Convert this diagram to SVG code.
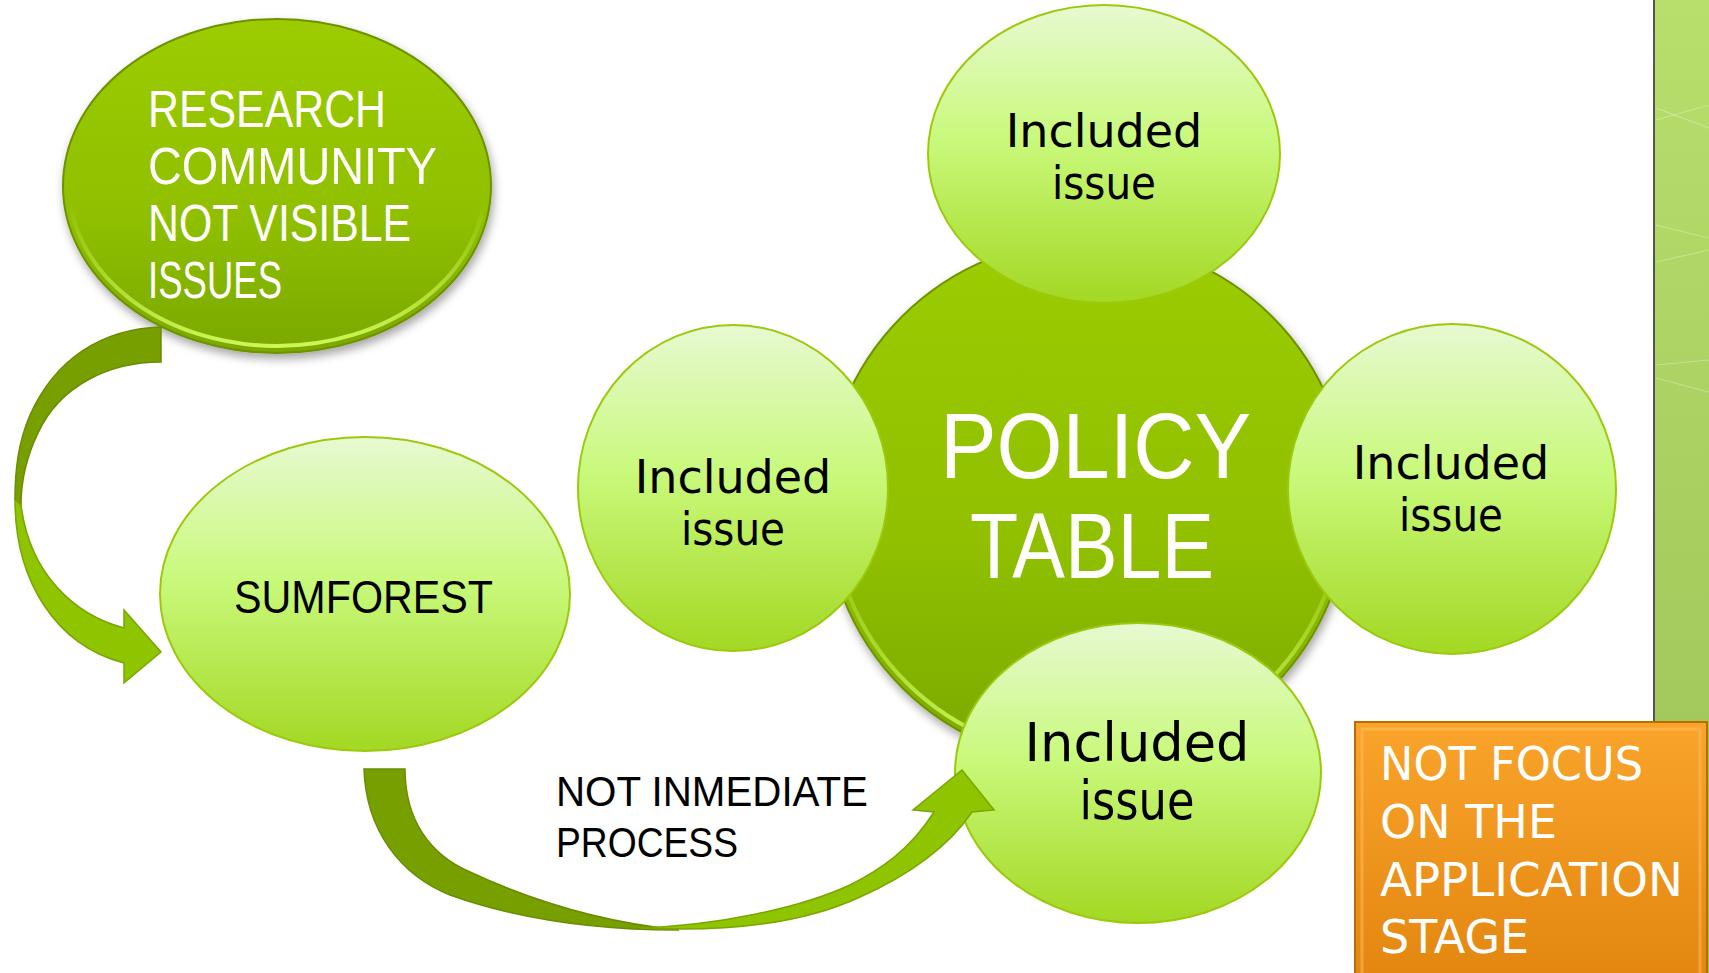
<svg xmlns="http://www.w3.org/2000/svg" width="1709" height="973" viewBox="0 0 1709 973">
<defs>
<linearGradient id="gDark" x1="0" y1="0" x2="0" y2="1">
<stop offset="0" stop-color="#9ccc00"/><stop offset="0.6" stop-color="#8fbf00"/><stop offset="1" stop-color="#7aa800"/>
</linearGradient>
<linearGradient id="gRim" x1="0" y1="0" x2="0" y2="1">
<stop offset="0.55" stop-color="#d8ff60" stop-opacity="0"/><stop offset="1" stop-color="#d8ff60" stop-opacity="0.9"/>
</linearGradient>
<linearGradient id="gLight" x1="0" y1="0" x2="0" y2="1">
<stop offset="0" stop-color="#e8f9d2"/><stop offset="0.45" stop-color="#c9f97c"/><stop offset="1" stop-color="#a3d823"/>
</linearGradient>
<linearGradient id="gOrange" x1="0" y1="0" x2="0" y2="1">
<stop offset="0" stop-color="#faa42c"/><stop offset="1" stop-color="#e2860f"/>
</linearGradient>
<linearGradient id="gPanel" x1="0" y1="0" x2="0" y2="1">
<stop offset="0" stop-color="#b8de6c"/><stop offset="1" stop-color="#9cc156"/>
</linearGradient>
<filter id="shadow" x="-10%" y="-10%" width="130%" height="130%">
<feDropShadow dx="2" dy="5" stdDeviation="5" flood-color="#000" flood-opacity="0.35"/>
</filter>
<style>
.dark{fill:url(#gDark);stroke:#6e9200;stroke-width:2}
.rim{fill:none;stroke:url(#gRim);stroke-width:4}
.light{fill:url(#gLight);stroke:#9cc90c;stroke-width:2}
.tw{font-family:"Liberation Sans",Arial,sans-serif}
.cg{font-family:"DejaVu Sans","Liberation Sans",sans-serif}
.wt{fill:#ffffff}
.bk{fill:#000000}
.arrDark{fill:#789f00;stroke:#6a8c00;stroke-width:1.5}
.arrLight{fill:#8fc400;stroke:#7aa600;stroke-width:1.5}
</style>
</defs>
<rect width="1709" height="973" fill="#ffffff"/>

<g id="panel">
<rect x="1654" y="0" width="55" height="973" fill="url(#gPanel)"/>
<line x1="1654" y1="0" x2="1654" y2="973" stroke="#555555" stroke-width="2"/>
<g stroke="#ffffff" stroke-opacity="0.3" stroke-width="1.2">
<line x1="1656" y1="108" x2="1709" y2="128"/>
<line x1="1656" y1="120" x2="1709" y2="105"/>
<line x1="1656" y1="225" x2="1709" y2="238"/>
<line x1="1656" y1="262" x2="1709" y2="250"/>
<line x1="1656" y1="365" x2="1709" y2="360"/>
<line x1="1656" y1="378" x2="1709" y2="392"/>
</g>
</g>

<g id="research">
<ellipse cx="277" cy="186" rx="214" ry="167" class="dark" filter="url(#shadow)"/>
<ellipse cx="277" cy="185" rx="208" ry="161" class="rim"/>
<g class="tw wt" font-size="51">
<text x="148" y="127" textLength="238" lengthAdjust="spacingAndGlyphs">RESEARCH</text>
<text x="148" y="184" textLength="289" lengthAdjust="spacingAndGlyphs">COMMUNITY</text>
<text x="148" y="241" textLength="263" lengthAdjust="spacingAndGlyphs">NOT VISIBLE</text>
<text x="148" y="298" textLength="134" lengthAdjust="spacingAndGlyphs">ISSUES</text>
</g>
</g>

<g id="sumforest">
<ellipse cx="365" cy="594" rx="205" ry="157" class="light"/>
<text x="234" y="613" class="tw bk" font-size="46" textLength="259" lengthAdjust="spacingAndGlyphs">SUMFOREST</text>
</g>

<g id="policy">
<circle cx="1087" cy="502" r="262" class="dark" filter="url(#shadow)"/>
<circle cx="1087" cy="501" r="256" class="rim"/>
<g class="tw wt" font-size="92">
<text x="940" y="478" textLength="311" lengthAdjust="spacingAndGlyphs">POLICY</text>
<text x="970" y="578" textLength="244" lengthAdjust="spacingAndGlyphs">TABLE</text>
</g>
</g>

<g id="issue-top">
<ellipse cx="1104" cy="154" rx="176" ry="149" class="light"/>
<g class="cg bk" font-size="46" text-anchor="middle">
<text x="1104" y="147">Included</text>
<text x="1104" y="199" textLength="104" lengthAdjust="spacingAndGlyphs">issue</text>
</g>
</g>

<g id="issue-left">
<ellipse cx="733" cy="488" rx="155" ry="163" class="light"/>
<g class="cg bk" font-size="46" text-anchor="middle">
<text x="733" y="493">Included</text>
<text x="733" y="545" textLength="104" lengthAdjust="spacingAndGlyphs">issue</text>
</g>
</g>

<g id="issue-right">
<ellipse cx="1452" cy="489" rx="164" ry="165" class="light"/>
<g class="cg bk" font-size="46" text-anchor="middle">
<text x="1451" y="479">Included</text>
<text x="1451" y="531" textLength="104" lengthAdjust="spacingAndGlyphs">issue</text>
</g>
</g>

<g id="issue-bottom">
<ellipse cx="1138" cy="773" rx="183" ry="150" class="light"/>
<g class="cg bk" font-size="53" text-anchor="middle">
<text x="1137" y="761" textLength="225" lengthAdjust="spacingAndGlyphs">Included</text>
<text x="1137" y="819" textLength="115" lengthAdjust="spacingAndGlyphs">issue</text>
</g>
</g>

<g id="not-focus">
<rect x="1355" y="722" width="352" height="260" fill="url(#gOrange)" stroke="#b96c00" stroke-width="2"/>
<rect x="1362" y="729" width="338" height="250" fill="none" stroke="#ffc060" stroke-opacity="0.5" stroke-width="3"/>
<g class="cg wt" font-size="46">
<text x="1380" y="780" textLength="263" lengthAdjust="spacingAndGlyphs">NOT FOCUS</text>
<text x="1380" y="838">ON THE</text>
<text x="1380" y="896" textLength="303" lengthAdjust="spacingAndGlyphs">APPLICATION</text>
<text x="1380" y="953">STAGE</text>
</g>
</g>

<g id="connectors">
<g id="arrow-research-sumforest">
<path class="arrDark" d="M161,327 C100,329 55,360 30,415 C18,443 15,470 15,500 L21,505 C21,480 26,458 38,433 C60,385 110,362 161,362 Z"/>
<path class="arrLight" d="M15,500 C15,580 55,645 124,663 L124,683 L161,652 L124,610 L124,628 C75,615 30,575 21,505 Z"/>
</g>
<g id="arrow-sumforest-issue">
<path class="arrDark" d="M364,769 L405,769 C405,820 430,855 470,872 C530,900 600,922 679,930 C600,930 520,920 450,895 C400,875 366,830 364,769 Z"/>
<path class="arrLight" d="M640,928 C720,932 800,925 860,897 C910,875 950,845 972,812 L994,810 L962,770 L913,810 L934,812 C910,850 880,870 850,885 C800,908 720,925 640,928 Z"/>
</g>
<g class="tw bk" font-size="42">
<text x="556" y="806" textLength="312" lengthAdjust="spacingAndGlyphs">NOT INMEDIATE</text>
<text x="556" y="857" textLength="182" lengthAdjust="spacingAndGlyphs">PROCESS</text>
</g>
</g>
</svg>
